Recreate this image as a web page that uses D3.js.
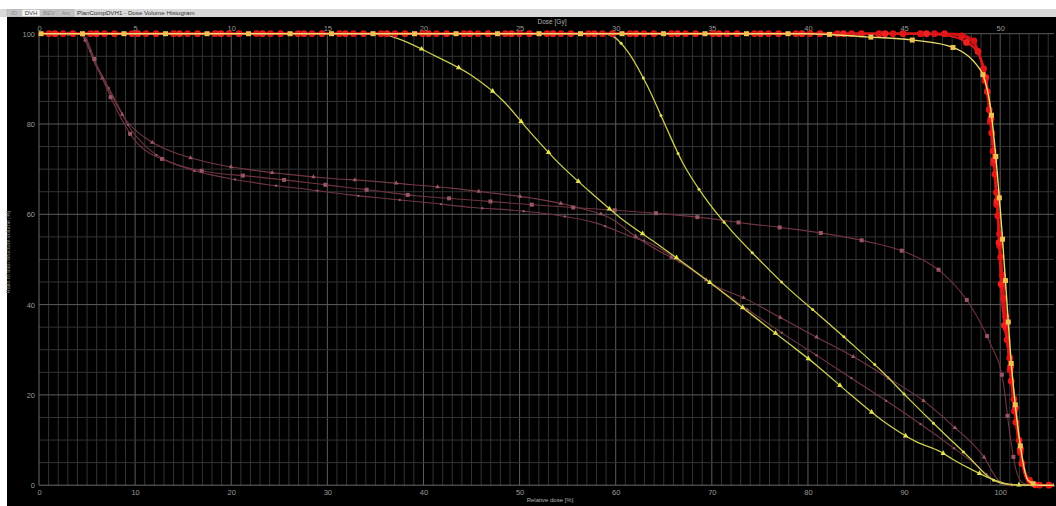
<!DOCTYPE html>
<html>
<head>
<meta charset="utf-8">
<script src="https://cdn.jsdelivr.net/npm/d3@7"></script>
<style>
body { margin: 0; background: #fff; }
svg { display: block; font-family: "Liberation Sans", Arial, sans-serif; }
</style>
</head>
<body>
<script>
// DVH curves: [relative dose %, volume %]
var redA = [[0,100],[92,100],[94.5,99.6],[96.4,98.2],[97.6,96],[98.75,87],[99.65,63],[100.2,41],[101,27.7],[101.7,15.2],[102.4,4.1],[103.1,0.5],[104,0],[105.6,0]];
var redB = [[0,100],[95,100],[96.5,99.3],[97.6,96.5],[98.4,91],[99.2,76],[99.9,55],[100.6,35],[101.3,20],[102,8],[102.7,1.5],[103.5,0],[105.6,0]];
var redC = [[0,100],[94,100],[96,99.5],[97.5,97],[98.6,88],[99.5,68],[100.3,45],[101.1,26],[101.9,11],[102.8,2],[103.8,0],[105.6,0]];
var redD = [[0,100],[95.5,100],[97,99],[98,94],[98.9,82],[99.7,60],[100.5,38],[101.4,18],[102.2,6],[103,1],[104.2,0],[105.6,0]];
var ptvYellow = [[0,100],[80,100],[86.1,99.3],[90.4,98.7],[94.6,97.3],[97.9,92.1],[99,83.5],[100.2,55.8],[100.8,37.5],[101.1,28.5],[101.5,19.3],[102,10.2],[102.9,1.1],[104,0],[105.6,0]];
var pinkA = [[0,100],[4.2,100],[6,92.5],[7.5,86.5],[9,81],[11,77],[13.1,74.5],[17.2,71.7],[21.5,70],[25.7,68.9],[30.1,68],[34.3,67.4],[38.6,66.6],[42.8,65.8],[47.2,64.7],[51.5,63.5],[55.7,61.7],[59.8,58.7],[62,55.2],[64,52.5],[67.2,48.8],[70.5,44],[73.2,41.6],[77,37.3],[80.7,33],[84.7,28.5],[88.3,23.8],[91.9,18.9],[95.1,13.1],[98.2,6.6],[100,0.8],[101.5,0],[105.6,0]];
var pinkB = [[0,100],[4.4,100],[6.2,92],[7.7,84.8],[10,76.3],[13.7,71.5],[17.8,69.3],[22.1,68.4],[26.4,67.4],[30.7,66.3],[35,65.2],[39.2,64.1],[43.5,63.4],[47.8,62.7],[52.1,62],[56.3,61.4],[60.7,60.8],[65,60.1],[69.2,59.2],[73.5,58],[77.8,56.9],[82.1,55.6],[86.3,53.9],[90.5,51.3],[94.1,46.8],[96.9,39.8],[98.9,31.7],[100.3,23],[101,11.5],[101.7,3],[102.5,0.3],[104,0],[105.6,0]];
var pinkC = [[0,100],[4.2,100],[6,93],[8,85],[9.5,79],[11.4,74.5],[15.2,70.3],[19.4,68.1],[23.7,66.6],[28,65.5],[32.3,64.3],[36.5,63.4],[40.8,62.5],[45.1,61.5],[49.3,60.9],[53.6,59.9],[57.9,58.1],[61.8,54.9],[63.6,53.6],[67,49],[70.5,43.8],[73.8,38.8],[77.6,33.3],[81.3,28.2],[84.9,23.2],[88.5,18.2],[92,13.1],[95,8.5],[97.5,4.5],[99.5,1],[101,0],[105.6,0]];
var yellowA = [[0,100],[35.5,100],[37.2,99],[41.2,95.1],[44.9,90.9],[48.3,85.1],[51.1,78.2],[54,71.5],[57.2,65.2],[60.5,59.2],[64,53.9],[67.4,48.7],[70.9,43.1],[74.3,37.5],[77.7,31.9],[81.1,26.2],[84.3,20.3],[87.7,14.4],[91.3,9.6],[93.8,7.4],[95.1,5.7],[97,3.5],[99,1.5],[101,0.2],[103,0],[105.6,0]];
var yellowB = [[0,100],[58.5,100],[59.8,99.3],[61.2,96.2],[63.3,88.4],[65.1,80],[66.9,71.7],[69.2,63.9],[71.9,56.7],[74.9,50],[77.9,43.7],[81.2,37.6],[84.4,31.6],[87.6,25.4],[90.6,18.9],[93.7,12.4],[96.8,6.1],[99,1.5],[100.2,0.4],[102,0],[105.6,0]];

var relTicks = [0,10,20,30,40,50,60,70,80,90,100];
var volTicks = [0,20,40,60,80,100];
var gyTicks = [0,5,10,15,20,25,30,35,40,45,50];
var tabs = ["ID", "DVH", "BEV", "Arc"];

var width = 1056, height = 506;
var svg = d3.select("body").append("svg")
    .attr("width", width)
    .attr("height", height);

// window frame
svg.append("rect").attr("x", 0).attr("y", 0).attr("width", width).attr("height", height).attr("fill", "#fff");
svg.append("rect").attr("x", 0).attr("y", 9).attr("width", width).attr("height", 8).attr("fill", "#d9d9d9");
svg.append("rect").attr("x", 7).attr("y", 17).attr("width", width - 7).attr("height", height - 17).attr("fill", "#000");

var tabX = [7, 22, 41, 58], tabW = [14, 18, 16, 16];
tabs.forEach(function(t, i) {
    svg.append("rect").attr("x", tabX[i]).attr("y", 9.5).attr("width", tabW[i]).attr("height", 7)
        .attr("fill", i == 1 ? "#f4f4f4" : "#c4c4c4").attr("stroke", "#aaa").attr("stroke-width", 0.5);
    svg.append("text").attr("x", tabX[i] + tabW[i] / 2).attr("y", 15.3).attr("text-anchor", "middle")
        .attr("font-size", 6).attr("fill", i == 1 ? "#444" : "#888").text(t);
});
svg.append("text").attr("x", 77).attr("y", 15.3).attr("font-size", 6.2).attr("fill", "#333")
    .text("PlanCompDVH1 - Dose Volume Histogram");

var x = d3.scaleLinear().domain([0, 105.6]).range([39, 1054]);
var xGy = d3.scaleLinear().domain([0, 52.8]).range([39, 1054]);
var y = d3.scaleLinear().domain([0, 100]).range([485.2, 33.7]);

// grid
var grid = svg.append("g");
grid.selectAll("line.vx").data(d3.range(1, 106)).enter().append("line")
    .attr("x1", function(d) { return x(d); }).attr("x2", function(d) { return x(d); })
    .attr("y1", y(100)).attr("y2", y(0))
    .attr("stroke", function(d) { return d % 10 == 0 ? "#5c5c5c" : "#333"; })
    .attr("stroke-width", 1);
grid.selectAll("line.hy").data(d3.range(5, 101, 5)).enter().append("line")
    .attr("x1", x(0)).attr("x2", x(105.6))
    .attr("y1", function(d) { return y(d); }).attr("y2", function(d) { return y(d); })
    .attr("stroke", function(d) { return d % 20 == 0 ? "#5c5c5c" : "#333"; })
    .attr("stroke-width", 1);
grid.append("line").attr("x1", x(0)).attr("x2", x(0)).attr("y1", y(100)).attr("y2", y(0)).attr("stroke", "#6a6a6a");
grid.append("line").attr("x1", x(0)).attr("x2", x(105.6)).attr("y1", y(0)).attr("y2", y(0)).attr("stroke", "#6a6a6a");

// axes
function styleAxis(g) {
    g.select(".domain").remove();
    g.selectAll("text").attr("fill", "#9a9a9a").attr("font-size", 7.5).attr("font-family", "Liberation Sans, Arial, sans-serif");
}
svg.append("g").attr("transform", "translate(0," + y(0) + ")")
    .call(d3.axisBottom(x).tickValues(relTicks).tickSize(0).tickPadding(4))
    .call(styleAxis);
svg.append("g").attr("transform", "translate(" + x(0) + ",0)")
    .call(d3.axisLeft(y).tickValues(volTicks).tickSize(0).tickPadding(4))
    .call(styleAxis);
svg.append("g").attr("transform", "translate(0," + y(100) + ")")
    .call(d3.axisTop(xGy).tickValues(gyTicks).tickSize(0).tickPadding(3))
    .call(styleAxis);

svg.append("text").attr("x", 550).attr("y", 502).attr("text-anchor", "middle")
    .attr("font-size", 6).attr("fill", "#b0b0b0").text("Relative dose [%]");
svg.append("text").attr("x", 552).attr("y", 23.5).attr("text-anchor", "middle")
    .attr("font-size", 6.5).attr("fill", "#b0b0b0").text("Dose [Gy]");
svg.append("text").attr("transform", "translate(10,252) rotate(-90)").attr("text-anchor", "middle")
    .attr("font-size", 5.5).attr("fill", "#8a8a8a").text("Ratio of total structure volume [%]");

// curves
var line = d3.line()
    .x(function(d) { return x(d[0]); })
    .y(function(d) { return y(d[1]); })
    .curve(d3.curveMonotoneX);

var series = [
    { data: pinkC, stroke: "#703642", width: 1.1, mark: "dot", fill: "#9a5664", offset: 20 },
    { data: pinkA, stroke: "#743844", width: 1.1, mark: "tri", fill: "#9c5866", offset: 8 },
    { data: pinkB, stroke: "#703440", width: 1.1, mark: "sq", fill: "#985664", offset: 30 },
    { data: yellowA, stroke: "#cccc55", width: 1.3, mark: "tri", fill: "#e4e450", offset: 12 },
    { data: yellowB, stroke: "#cccc55", width: 1.3, mark: "dot", fill: "#e0e058", offset: 4 },
    { data: redD, stroke: "#b81010", width: 2, mark: "circle", fill: "#d81515", offset: 24 },
    { data: redC, stroke: "#c81212", width: 2, mark: "circle", fill: "#e01818", offset: 10 },
    { data: redB, stroke: "#d01414", width: 2, mark: "circle", fill: "#e41a1a", offset: 34 },
    { data: redA, stroke: "#dd1818", width: 2.2, mark: "circle", fill: "#ee2020", offset: 16 },
    { data: ptvYellow, stroke: "#e8dc70", width: 1.4, mark: "sq", fill: "#f0c050", offset: 2 }
];

var spacing = 41.5;
series.forEach(function(s) {
    var p = svg.append("path").datum(s.data)
        .attr("d", line)
        .attr("fill", "none")
        .attr("stroke", s.stroke)
        .attr("stroke-width", s.width);
    var node = p.node(), L = node.getTotalLength();
    var pts = [];
    for (var l = s.offset; l < L; l += spacing) pts.push(node.getPointAtLength(l));
    var g = svg.append("g");
    var pink = s.stroke.indexOf("#7") == 0;
    pts.forEach(function(pt) {
        if (s.mark == "circle") {
            g.append("circle").attr("cx", pt.x).attr("cy", pt.y).attr("r", 3.4).attr("fill", s.fill);
        } else if (s.mark == "sq") {
            var h = pink ? 2 : 2.5;
            g.append("rect").attr("x", pt.x - h).attr("y", pt.y - h).attr("width", 2 * h).attr("height", 2 * h)
                .attr("fill", s.fill);
        } else if (s.mark == "tri") {
            g.append("path").attr("d", d3.symbol(d3.symbolTriangle, pink ? 9 : 13)())
                .attr("transform", "translate(" + pt.x + "," + pt.y + ")").attr("fill", s.fill);
        } else {
            g.append("circle").attr("cx", pt.x).attr("cy", pt.y).attr("r", pink ? 1.2 : 1.5).attr("fill", s.fill);
        }
    });
});
</script>
</body>
</html>
